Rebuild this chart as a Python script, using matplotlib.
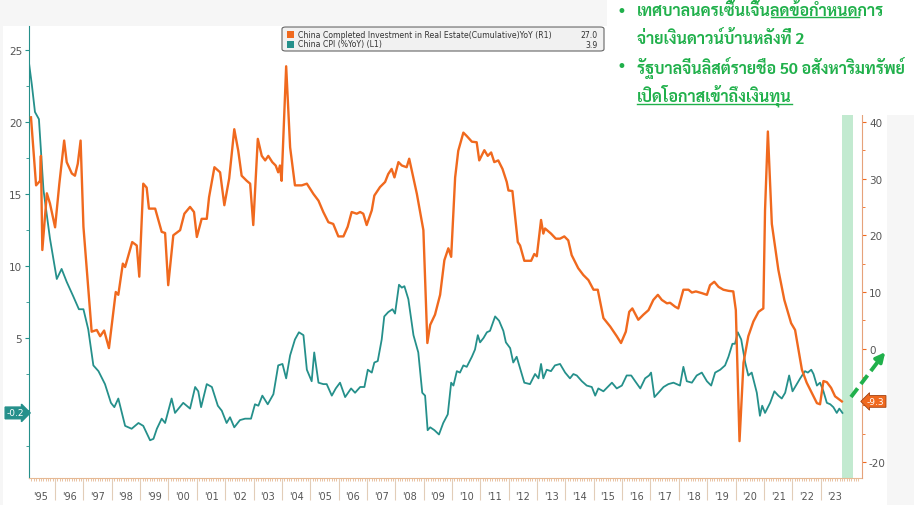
import matplotlib
matplotlib.use("Agg")
import numpy as np
import matplotlib.pyplot as plt
import matplotlib.ticker as mticker
import matplotlib.transforms as mtrans
from matplotlib import font_manager
from matplotlib.patches import Rectangle, FancyBboxPatch, FancyArrowPatch
from matplotlib.lines import Line2D

# China completed investment in real estate, cumulative YoY % (right axis)
re_t = [1995.15, 1995.33, 1995.47, 1995.50, 1995.55, 1995.71, 1995.82, 1996.00, 1996.15, 1996.32,
        1996.41, 1996.59, 1996.70, 1996.80, 1996.90, 1997.00, 1997.29, 1997.47, 1997.59, 1997.73,
        1997.90, 1998.14, 1998.23, 1998.39, 1998.47, 1998.72, 1998.88, 1998.97, 1999.11, 1999.23,
        1999.31, 1999.53, 1999.76, 1999.88, 1999.99, 2000.17, 2000.41, 2000.56, 2000.76, 2000.90,
        2001.00, 2001.17, 2001.35, 2001.43, 2001.62, 2001.82, 2001.97, 2002.14, 2002.32, 2002.46,
        2002.58, 2002.76, 2002.88, 2002.99, 2003.15, 2003.29, 2003.41, 2003.52, 2003.66, 2003.78,
        2003.87, 2003.93, 2003.99, 2004.15, 2004.29, 2004.46, 2004.70, 2004.88, 2005.11, 2005.29,
        2005.46, 2005.64, 2005.81, 2005.99, 2006.17, 2006.32, 2006.46, 2006.64, 2006.76, 2006.87,
        2006.99, 2007.17, 2007.26, 2007.46, 2007.64, 2007.75, 2007.87, 2007.97, 2008.11, 2008.23,
        2008.40, 2008.49, 2008.76, 2008.99, 2009.13, 2009.23, 2009.40, 2009.58, 2009.73, 2009.87,
        2009.97, 2010.11, 2010.22, 2010.40, 2010.52, 2010.70, 2010.87, 2010.96, 2011.14, 2011.26,
        2011.38, 2011.49, 2011.63, 2011.78, 2011.93, 2011.99, 2012.13, 2012.32, 2012.40, 2012.55,
        2012.79, 2012.90, 2012.99, 2013.14, 2013.22, 2013.28, 2013.49, 2013.66, 2013.81, 2013.96,
        2014.10, 2014.22, 2014.45, 2014.63, 2014.81, 2014.99, 2015.14, 2015.34, 2015.58, 2015.81,
        2015.96, 2016.13, 2016.25, 2016.36, 2016.57, 2016.75, 2016.93, 2017.10, 2017.26, 2017.40,
        2017.58, 2017.69, 2017.87, 2017.98, 2018.16, 2018.34, 2018.46, 2018.60, 2018.81, 2018.99,
        2019.10, 2019.25, 2019.40, 2019.57, 2019.75, 2019.92, 2020.01, 2020.14, 2020.28, 2020.45,
        2020.63, 2020.81, 2020.98, 2021.04, 2021.14, 2021.28, 2021.51, 2021.72, 2021.96, 2022.10,
        2022.22, 2022.34, 2022.51, 2022.69, 2022.87, 2022.98, 2023.10, 2023.22, 2023.37, 2023.51,
        2023.75]
re_v = [40.8, 28.8, 29.6, 34.0, 17.4, 27.4, 25.6, 21.4, 29.1, 36.7,
        32.9, 30.9, 30.5, 32.6, 36.7, 21.5, 3.0, 3.3, 2.2, 3.2,
        0.1, 10.0, 9.5, 15.0, 14.4, 18.8, 18.2, 12.7, 29.1, 28.4,
        24.7, 24.7, 20.6, 20.4, 11.2, 20.0, 20.9, 23.8, 25.0, 24.1,
        19.7, 22.9, 22.9, 26.7, 32.0, 31.1, 25.3, 30.0, 38.7, 34.9,
        30.5, 29.6, 29.1, 21.8, 37.0, 34.0, 33.2, 34.0, 32.9, 32.3,
        31.1, 32.3, 29.6, 49.8, 35.5, 28.8, 28.8, 29.1, 27.3, 26.1,
        24.1, 22.3, 22.0, 19.8, 19.8, 21.5, 24.1, 23.8, 24.1, 23.8,
        21.8, 24.4, 27.0, 28.5, 29.4, 30.8, 31.7, 30.2, 32.9, 32.3,
        32.0, 33.5, 27.3, 20.9, 1.0, 4.2, 6.0, 9.5, 15.6, 17.7,
        16.2, 30.2, 34.9, 38.1, 37.5, 36.5, 36.4, 33.2, 35.0, 34.0,
        34.6, 32.9, 33.2, 31.7, 29.4, 27.9, 27.8, 18.8, 18.2, 15.5,
        15.5, 16.7, 16.3, 22.7, 20.3, 21.2, 20.3, 19.4, 19.4, 19.8,
        19.1, 16.5, 14.2, 13.0, 12.1, 10.4, 10.4, 5.4, 3.9, 2.2,
        1.0, 3.0, 6.5, 7.1, 5.1, 6.0, 6.8, 8.6, 9.5, 8.6,
        8.0, 8.1, 7.4, 7.1, 10.4, 10.4, 9.9, 10.1, 9.8, 9.5,
        11.2, 11.8, 10.9, 10.4, 10.2, 10.1, 6.8, -16.3, -2.5, 2.2,
        4.8, 6.5, 7.1, 24.4, 38.3, 22.0, 13.9, 8.6, 4.5, 3.3,
        -0.2, -3.7, -6.0, -7.8, -9.6, -9.8, -5.7, -5.9, -6.9, -8.4,
        -9.3]

# China CPI YoY % (left axis)
cpi_t = [1995.08, 1995.18, 1995.29, 1995.43, 1995.59, 1995.82, 1996.06, 1996.23, 1996.41, 1996.64,
         1996.84, 1997.00, 1997.17, 1997.35, 1997.53, 1997.76, 1997.97, 1998.09, 1998.23, 1998.47,
         1998.70, 1998.94, 1999.11, 1999.35, 1999.47, 1999.59, 1999.76, 1999.88, 2000.11, 2000.23,
         2000.52, 2000.76, 2000.94, 2001.05, 2001.15, 2001.35, 2001.53, 2001.74, 2001.88, 2002.05,
         2002.17, 2002.32, 2002.52, 2002.70, 2002.91, 2003.05, 2003.17, 2003.31, 2003.50, 2003.70,
         2003.87, 2004.02, 2004.15, 2004.29, 2004.46, 2004.60, 2004.76, 2004.88, 2005.05, 2005.14,
         2005.29, 2005.46, 2005.58, 2005.76, 2005.90, 2006.05, 2006.23, 2006.44, 2006.58, 2006.76,
         2006.91, 2007.03, 2007.17, 2007.26, 2007.38, 2007.52, 2007.61, 2007.75, 2007.90, 2007.99,
         2008.13, 2008.23, 2008.32, 2008.46, 2008.64, 2008.81, 2008.95, 2009.05, 2009.14, 2009.23,
         2009.38, 2009.54, 2009.69, 2009.85, 2009.97, 2010.05, 2010.17, 2010.28, 2010.40, 2010.52,
         2010.70, 2010.81, 2010.91, 2010.99, 2011.11, 2011.23, 2011.34, 2011.52, 2011.66, 2011.81,
         2011.90, 2012.05, 2012.16, 2012.28, 2012.55, 2012.75, 2012.93, 2013.05, 2013.14, 2013.22,
         2013.34, 2013.49, 2013.63, 2013.81, 2013.99, 2014.16, 2014.28, 2014.40, 2014.58, 2014.75,
         2014.93, 2015.05, 2015.16, 2015.34, 2015.49, 2015.64, 2015.81, 2015.99, 2016.16, 2016.32,
         2016.46, 2016.64, 2016.81, 2016.95, 2017.02, 2017.14, 2017.28, 2017.46, 2017.63, 2017.81,
         2018.04, 2018.16, 2018.28, 2018.46, 2018.63, 2018.81, 2018.99, 2019.14, 2019.28, 2019.46,
         2019.63, 2019.75, 2019.89, 2019.98, 2020.08, 2020.20, 2020.34, 2020.45, 2020.57, 2020.75,
         2020.86, 2020.94, 2021.04, 2021.22, 2021.37, 2021.51, 2021.63, 2021.75, 2021.89, 2022.01,
         2022.13, 2022.28, 2022.45, 2022.55, 2022.67, 2022.75, 2022.87, 2022.98, 2023.10, 2023.22,
         2023.34, 2023.45, 2023.57, 2023.66, 2023.77]
cpi_v = [24.1, 22.6, 20.7, 20.2, 15.3, 11.9, 9.1, 9.8, 8.9, 7.9,
         7.0, 7.0, 5.6, 3.1, 2.7, 1.8, 0.5, 0.2, 0.8, -1.1,
         -1.3, -0.9, -1.1, -2.1, -2.0, -1.3, -0.6, -0.9, 0.8, -0.2,
         0.5, 0.1, 1.6, 1.3, 0.2, 1.8, 1.6, 0.3, -0.05, -0.9,
         -0.5, -1.2, -0.7, -0.6, -0.6, 0.4, 0.3, 1.0, 0.4, 1.1,
         3.1, 3.2, 2.2, 3.8, 4.9, 5.4, 5.2, 2.8, 2.0, 4.0,
         1.9, 1.8, 1.8, 1.0, 1.5, 1.9, 0.9, 1.5, 1.2, 1.6,
         1.6, 2.8, 2.6, 3.3, 3.4, 4.9, 6.5, 6.8, 7.0, 6.7,
         8.7, 8.5, 8.6, 7.7, 5.2, 4.0, 1.2, 1.0, -1.4, -1.2,
         -1.4, -1.7, -0.9, -0.3, 1.9, 1.7, 2.7, 2.6, 3.1, 3.0,
         3.7, 4.2, 5.2, 4.7, 5.0, 5.4, 5.5, 6.5, 6.2, 5.5,
         4.7, 4.3, 3.3, 3.7, 1.9, 1.8, 2.5, 2.2, 3.2, 2.2,
         2.8, 2.7, 3.1, 3.2, 2.6, 2.2, 2.5, 2.4, 2.0, 1.7,
         1.6, 1.0, 1.5, 1.3, 1.6, 1.9, 1.5, 1.7, 2.4, 2.4,
         2.0, 1.5, 2.2, 2.4, 2.6, 0.9, 1.2, 1.6, 1.8, 1.9,
         1.7, 3.0, 2.0, 1.9, 2.4, 2.6, 2.0, 1.7, 2.6, 2.8,
         3.1, 3.7, 4.6, 4.6, 5.4, 4.9, 3.3, 2.4, 2.6, 1.2,
         -0.4, 0.3, -0.2, 0.5, 1.3, 1.0, 0.8, 1.2, 2.4, 1.3,
         1.7, 2.2, 2.7, 2.6, 2.8, 2.5, 1.7, 1.9, 1.3, 0.5,
         0.4, 0.2, -0.2, 0.1, -0.2]

years = list(range(1995, 2024))
year_labels = ["'95", "'96", "'97", "'98", "'99", "'00", "'01", "'02", "'03", "'04",
               "'05", "'06", "'07", "'08", "'09", "'10", "'11", "'12", "'13", "'14",
               "'15", "'16", "'17", "'18", "'19", "'20", "'21", "'22", "'23"]

legend_rows = [("China Completed Investment in Real Estate(Cumulative)YoY (R1)", "27.0"),
               ("China CPI (%YoY) (L1)", "3.9")]
last_re = -9.3
last_cpi = -0.2

thai_lines = ["เทศบาลนครเซิ้นเจิ้นลดข้อกำหนดการ",
              "จ่ายเงินดาวน์บ้านหลังที่ 2",
              "รัฐบาลจีนลิสต์รายชื่อ 50 อสังหาริมทรัพย์",
              "เปิดโอกาสเข้าถึงเงินทุน"]

ORANGE = "#f0691e"
TEAL = "#25908b"
GREEN = "#20b04b"
GREY = "#555555"
W, H = 914, 506

# pick a Thai-capable family (bold weight wanted)
installed = {f.name for f in font_manager.fontManager.ttflist}
thai_family = ["DejaVu Sans"]
for name in ["Sarabun", "IBM Plex Sans Thai Looped", "Noto Sans Thai Looped", "Noto Sans Thai", "Trirong"]:
    if name in installed:
        thai_family = [name, "DejaVu Sans"]
        break

fig = plt.figure(figsize=(9.14, 5.06), dpi=100)
fig.patch.set_facecolor("#f6f6f6")
fig.patches.append(Rectangle((3 / W, 0), 884 / W, 1 - 27 / H, transform=fig.transFigure,
                             facecolor="white", edgecolor="none", zorder=-1))

ax = fig.add_axes([29 / W, 27 / H, 833 / W, 452 / H])
ax.set_facecolor("none")
ax.plot(cpi_t, cpi_v, color=TEAL, lw=1.3, zorder=3)
ax.set_xlim(1995.08, 2024.46)
ax.set_ylim(-4.72, 26.67)
ax.axvspan(2023.77, 2024.15, color="#c2ead0", lw=0, zorder=1)

ax2 = ax.twinx()
ax2.plot(re_t, re_v, color=ORANGE, lw=1.7, zorder=3)
ax2.set_ylim(-22.8, 56.9)

for s in ["top", "right"]:
    ax.spines[s].set_visible(False)
for s in ["top", "left", "bottom"]:
    ax2.spines[s].set_visible(False)
ax.spines["left"].set_color(TEAL)
ax.spines["bottom"].set_color("#e6b994")
ax2.spines["right"].set_color("#e6a27a")

ax.yaxis.set_major_locator(mticker.FixedLocator([5, 10, 15, 20, 25]))
ax.yaxis.set_minor_locator(mticker.MultipleLocator(2.5))
ax.tick_params(axis="y", which="major", colors=TEAL, labelcolor=GREY, length=3, labelsize=7.5, pad=2)
ax.tick_params(axis="y", which="minor", colors=TEAL, length=2)

ax2.yaxis.set_major_locator(mticker.FixedLocator([-20, -10, 0, 10, 20, 30, 40]))
ax2.yaxis.set_major_formatter(mticker.FuncFormatter(lambda v, p: "" if v == -10 else "%d" % v))
ax2.yaxis.set_minor_locator(mticker.MultipleLocator(5))
ax2.tick_params(axis="y", which="major", colors=ORANGE, labelcolor=GREY, length=3, labelsize=7.5, pad=2)
ax2.tick_params(axis="y", which="minor", colors=ORANGE, length=2)

# year separators and monthly ticks
ax.set_xticks(years[1:])
ax.set_xticklabels([])
ax.set_xticks(np.arange(1995 + 2 / 12, 2024.4, 1 / 12), minor=True)
ax.tick_params(axis="x", which="major", colors="#e2cdb8", length=16, width=0.8)
ax.tick_params(axis="x", which="minor", colors="#e6b994", length=2.5, width=0.6)
xform = mtrans.blended_transform_factory(ax.transData, ax.transAxes)
for y, lab in zip(years, year_labels):
    ax.text(y + 0.5, -0.04, lab, transform=xform, ha="center", va="center",
            fontsize=7, color=GREY)

# last value tags
ytag = mtrans.blended_transform_factory(ax.transAxes, ax.transData)
ax.text(-0.006, last_cpi, "%.1f" % last_cpi, transform=ytag, ha="right", va="center",
        fontsize=6.5, color="white", bbox=dict(boxstyle="rarrow,pad=0.15", fc=TEAL, ec=TEAL),
        zorder=6)
ytag2 = mtrans.blended_transform_factory(ax2.transAxes, ax2.transData)
ax2.text(1.006, last_re, "%.1f" % last_re, transform=ytag2, ha="left", va="center",
         fontsize=6.5, color="white",
         bbox=dict(boxstyle="larrow,pad=0.15", fc=ORANGE, ec="#a04010", lw=0.6), zorder=6)

# legend box
fig.patches.append(FancyBboxPatch((282 / W, 1 - 52 / H), 322 / W, 24 / H,
                                  boxstyle="round,pad=0,rounding_size=0.004",
                                  transform=fig.transFigure, fc="#f1f1f1", ec="#666666",
                                  lw=0.8, zorder=5))
for i, (lab, val) in enumerate(legend_rows):
    yy = 1 - (35 + 10 * i) / H
    col = ORANGE if i == 0 else TEAL
    fig.patches.append(Rectangle((287 / W, yy - 3.5 / H), 7 / W, 7 / H,
                                 transform=fig.transFigure, fc=col, ec="none", zorder=6))
    fig.text(298 / W, yy, lab, fontsize=5.6, color="#333333", va="center", ha="left", zorder=7)
    fig.text(598 / W, yy, val, fontsize=5.6, color="#333333", va="center", ha="right", zorder=7)

# white panel under the Thai notes
fig.patches.append(Rectangle((607 / W, 1 - 116 / H), 307 / W, 116 / H, transform=fig.transFigure,
                             fc="white", ec="none", zorder=4))

# green dashed arrow
fig.add_artist(Line2D([851 / W, 880 / W], [1 - 398 / H, 1 - 360 / H], transform=fig.transFigure,
                      color=GREEN, lw=2.8, dashes=(2.8, 1.4), zorder=8))
fig.add_artist(FancyArrowPatch((878 / W, 1 - 362 / H), (887 / W, 1 - 351 / H),
                               transform=fig.transFigure, arrowstyle="-|>",
                               mutation_scale=14, color=GREEN, lw=2.5, zorder=8))

# Thai notes: size the font so the longest line spans ~268 px like the original
renderer = fig.canvas.get_renderer()
probe = fig.text(0, 0, thai_lines[2], fontsize=12, fontweight="bold", family=thai_family)
thai_size = 12 * 268 / probe.get_window_extent(renderer).width

for yb in [12, 67]:
    fig.text(621 / W, 1 - yb / H, "•", fontsize=12, color=GREEN, ha="center", va="center", zorder=9)
thai_texts = []
for txt, yb in zip(thai_lines, [11, 38, 68, 96]):
    t = fig.text(637 / W, 1 - yb / H, txt, fontsize=thai_size, color=GREEN, ha="left", va="center",
                 fontweight="bold", family=thai_family, zorder=9)
    thai_texts.append(t)

# underlines: "ลดข้อกำหนด" in line 1 and the whole of line 4
probe.set_fontsize(thai_size)
probe.set_text("เทศบาลนครเซิ้นเจิ้น")
w_pre = probe.get_window_extent(renderer).width
probe.set_text("ลดข้อกำหนด")
w_mid = probe.get_window_extent(renderer).width
probe.remove()
bb1 = thai_texts[0].get_window_extent(renderer)
bb4 = thai_texts[3].get_window_extent(renderer)
for x0, x1, yb in [(bb1.x0 + w_pre, bb1.x0 + w_pre + w_mid, bb1.y0 + 2),
                   (bb4.x0, bb4.x1, bb4.y0 + 2)]:
    fig.add_artist(Line2D([x0 / W, x1 / W], [yb / H, yb / H], transform=fig.transFigure,
                          color=GREEN, lw=1.0, zorder=9))

fig.savefig("out.png", dpi=100, facecolor=fig.get_facecolor())
